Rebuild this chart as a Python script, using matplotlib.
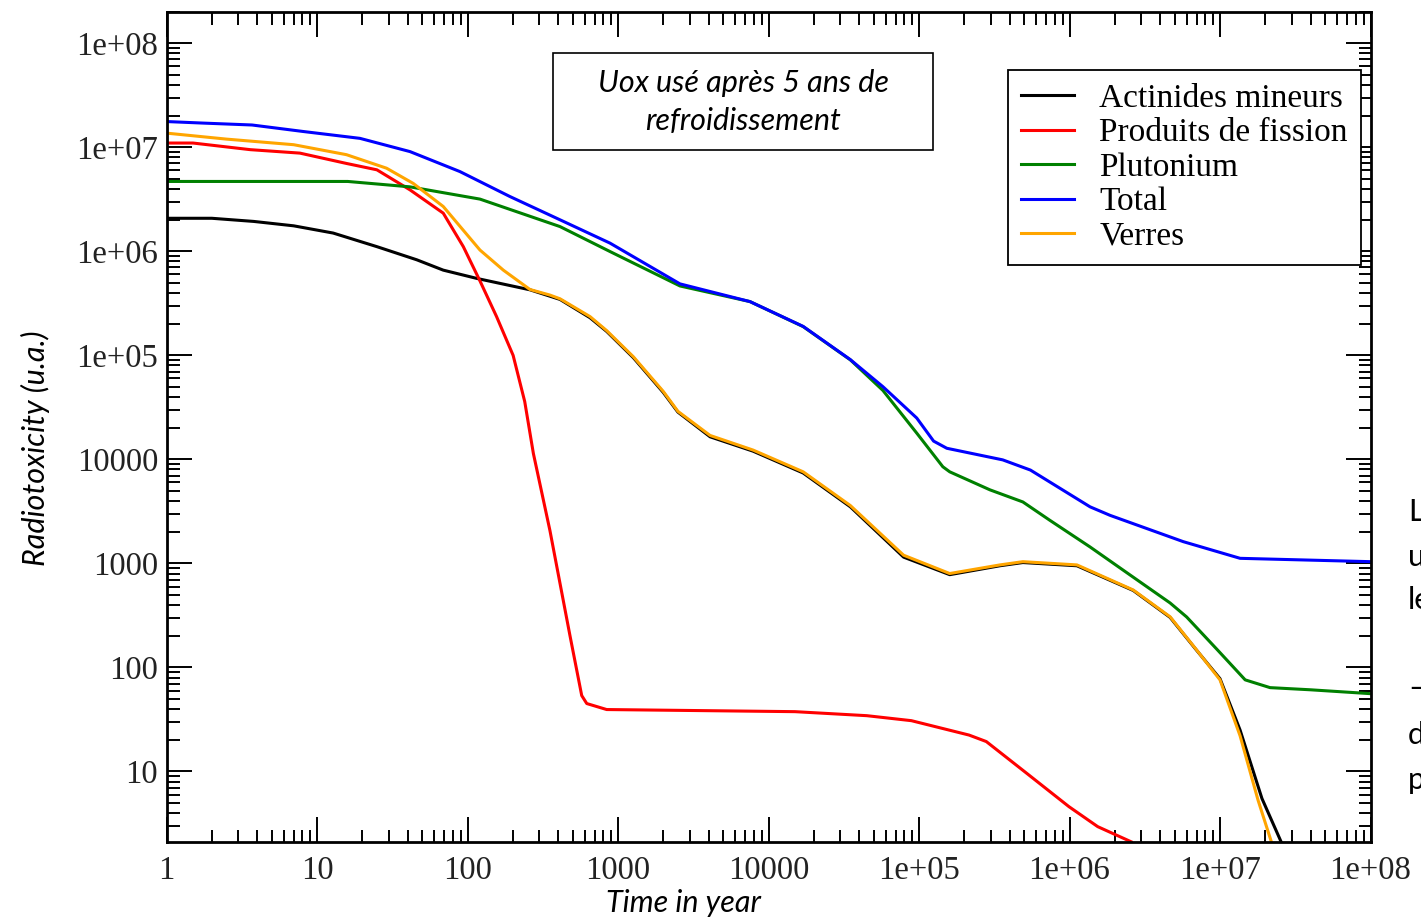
import matplotlib.pyplot as plt
from matplotlib.patches import Rectangle
from matplotlib.ticker import FixedLocator, FixedFormatter, LogLocator, NullFormatter

# valeurs (temps en annees, radiotoxicite en u.a.)
t_actinides = [1, 2.0, 3.8, 7, 12.8, 25, 46, 69, 115, 260, 412, 652, 841, 1265, 2000, 2500,
               4090, 7900, 1.7e4, 3.5e4, 7.9e4, 1.6e5, 3.45e5, 4.9e5, 1.12e6, 2.65e6,
               4.66e6, 7e6, 1e7, 1.36e7, 1.9e7, 2.55e7]
v_actinides = [2.08e6, 2.08e6, 1.94e6, 1.76e6, 1.5e6, 1.11e6, 8.3e5, 6.6e5, 5.5e5, 4.27e5,
               3.45e5, 2.3e5, 1.7e5, 9.5e4, 4.4e4, 2.85e4, 1.65e4, 1.2e4, 7.4e3, 3.5e3,
               1.15e3, 780, 950, 1.02e3, 950, 550, 303, 146, 78, 25, 5.5, 2.1]

t_fission = [1, 1.5, 3.6, 7.7, 15.7, 25, 41.5, 69, 93.8, 121, 156, 201, 240, 274, 353, 480,
             574, 620, 841, 1.5e4, 4.5e4, 8.9e4, 2.15e5, 2.8e5, 5.2e5, 9.9e5, 1.54e6, 2.57e6]
v_fission = [1.1e7, 1.1e7, 9.5e6, 8.8e6, 7.0e6, 6.08e6, 3.9e6, 2.33e6, 1.11e6, 5.2e5,
             2.36e5, 1.0e5, 3.6e4, 1.14e4, 2.07e3, 201, 53.7, 45, 39.4, 37.6, 34.4, 30.8,
             22.4, 19.4, 9.6, 4.6, 2.95, 2.11]

t_plutonium = [1, 16, 41.5, 121, 412, 885, 2580, 7530, 1.7e4, 3.5e4, 5.76e4, 9.66e4,
               1.44e5, 1.6e5, 2.96e5, 4.9e5, 7.4e5, 1.37e6, 2.64e6, 4.66e6, 6.0e6, 9.6e6,
               1.47e7, 2.15e7, 4e7, 1e8]
v_plutonium = [4.7e6, 4.7e6, 4.17e6, 3.18e6, 1.73e6, 9.96e5, 4.65e5, 3.29e5, 1.89e5,
               9.05e4, 4.6e4, 1.79e4, 8.5e3, 7.6e3, 5.1e3, 3.9e3, 2.6e3, 1.44e3, 741, 417,
               306, 148, 76, 64, 61, 56]

t_total = [1, 1.76, 3.7, 8.1, 19.3, 41.5, 89, 191, 412, 885, 2580, 7530, 1.7e4, 3.5e4,
           5.76e4, 9.66e4, 1.25e5, 1.53e5, 3.6e5, 5.5e5, 1.37e6, 1.86e6, 5.7e6, 1.36e7, 1e8]
v_total = [1.77e7, 1.71e7, 1.64e7, 1.42e7, 1.22e7, 9.1e6, 5.85e6, 3.37e6, 2.01e6, 1.2e6,
           4.87e5, 3.29e5, 1.9e5, 9.1e4, 5.0e4, 2.5e4, 1.5e4, 1.28e4, 9.9e3, 7.9e3,
           3.5e3, 2.9e3, 1.62e3, 1.12e3, 1.04e3]

t_verres = [1, 2.5, 7, 15.7, 29, 43.6, 69, 121, 173, 260, 353, 412, 652, 841, 1265, 2000,
            2500, 4090, 7900, 1.7e4, 3.5e4, 7.9e4, 1.6e5, 3.45e5, 4.9e5, 1.12e6, 2.65e6,
            4.66e6, 7e6, 1e7, 1.36e7, 1.79e7, 2.22e7]
v_verres = [1.37e7, 1.2e7, 1.06e7, 8.5e6, 6.3e6, 4.5e6, 2.7e6, 1.03e6, 6.6e5, 4.3e5,
            3.8e5, 3.5e5, 2.36e5, 1.73e5, 9.7e4, 4.5e4, 2.9e4, 1.7e4, 1.23e4, 7.6e3,
            3.6e3, 1.2e3, 800, 968, 1.04e3, 968, 556, 307, 147, 76, 22, 5.3, 2.0]

series = [
    ('Actinides mineurs', t_actinides, v_actinides, 'black'),
    ('Produits de fission', t_fission, v_fission, 'red'),
    ('Plutonium', t_plutonium, v_plutonium, 'green'),
    ('Total', t_total, v_total, 'blue'),
    ('Verres', t_verres, v_verres, 'orange'),
]

x_ticks = [1, 10, 100, 1e3, 1e4, 1e5, 1e6, 1e7, 1e8]
x_labels = ['1', '10', '100', '1000', '10000', '1e+05', '1e+06', '1e+07', '1e+08']
y_ticks = [10, 100, 1e3, 1e4, 1e5, 1e6, 1e7, 1e8]
y_labels = ['10', '100', '1000', '10000', '1e+05', '1e+06', '1e+07', '1e+08']

W, H = 1421, 918
fig = plt.figure(figsize=(W / 100, H / 100), dpi=100)
ax = fig.add_axes([166.5 / W, 1 - 842 / H, (1370.5 - 166.5) / W, (842 - 12) / H])

for nom, t, v, c in series:
    ax.plot(t, v, color=c, lw=2.2, label=nom)

ax.set_xscale('log')
ax.set_yscale('log')
ax.set_xlim(1, 1e8)
ax.set_ylim(2.1, 2.0e8)

serif = 'Liberation Serif'
ax.xaxis.set_major_locator(FixedLocator(x_ticks))
ax.xaxis.set_major_formatter(FixedFormatter(x_labels))
ax.yaxis.set_major_locator(FixedLocator(y_ticks))
ax.yaxis.set_major_formatter(FixedFormatter(y_labels))
for axis in (ax.xaxis, ax.yaxis):
    axis.set_minor_locator(LogLocator(base=10, subs=range(2, 10), numticks=20))
    axis.set_minor_formatter(NullFormatter())
ax.tick_params(which='both', direction='in', top=True, right=True, width=1.4, color='black')
ax.tick_params(which='major', length=18)
ax.tick_params(which='minor', length=9)
ax.tick_params(axis='x', which='major', pad=10)
ax.tick_params(axis='y', which='major', pad=6)
for lab in ax.get_xticklabels() + ax.get_yticklabels():
    lab.set_fontfamily(serif)
    lab.set_fontsize(23.5)
    lab.set_color('#222222')
for s in ax.spines.values():
    s.set_linewidth(2)

leg = ax.legend(loc='upper right', bbox_to_anchor=(1361 / W, 1 - 70 / H),
                bbox_transform=fig.transFigure, prop={'family': serif, 'size': 24},
                frameon=True, fancybox=False, edgecolor='black', framealpha=1,
                borderpad=0.4, handlelength=1.6, handletextpad=0.75, labelspacing=0.12,
                borderaxespad=0)
leg.get_frame().set_linewidth(1.3)

# encadre
fig.patches.append(Rectangle((553 / W, 1 - 150 / H), 380 / W, 97 / H, transform=fig.transFigure,
                             facecolor='white', edgecolor='black', lw=1.2, zorder=5))
sans = 'Lato'
fig.text(743 / W, 1 - 83 / H, 'Uox usé après 5 ans de', ha='center', va='center',
         family=sans, style='italic', size=22, zorder=6)
fig.text(743 / W, 1 - 121 / H, 'refroidissement', ha='center', va='center',
         family=sans, style='italic', size=22, zorder=6)

fig.text(683 / W, 1 - 903 / H, 'Time in year', ha='center', va='center',
         family=sans, style='italic', size=22)
fig.text(35 / W, 1 - 448 / H, 'Radiotoxicity (u.a.)', ha='center', va='center',
         rotation=90, family=sans, style='italic', size=22)

# texte de la diapositive coupe a droite (comme sur l'original)
for txt, yy in [('L', 512), ('u', 557), ('le', 600), ('–', 688), ('d', 735), ('p', 780)]:
    fig.text(1408 / W, 1 - yy / H, txt, ha='left', va='center', family=sans, size=22)

fig.savefig('out.png', dpi=100)
